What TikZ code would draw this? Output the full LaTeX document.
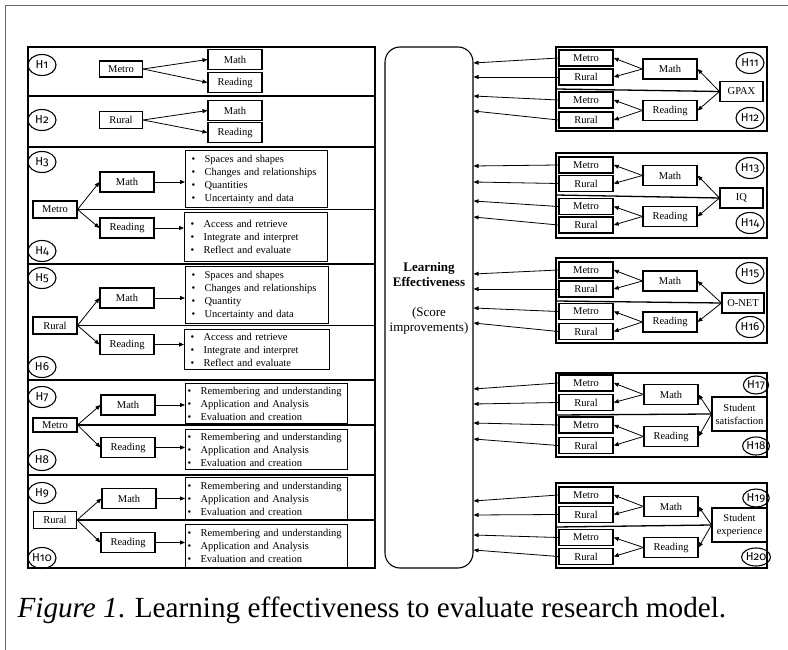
\documentclass[tikz,border=0pt]{standalone}
\usepackage{fontspec}
\setmainfont{Liberation Serif}
\newfontfamily\hfont[Numbers=OldStyle]{Fira Sans}
\usepackage{tikz}
\usetikzlibrary{positioning, arrows.meta, shapes.geometric, calc}

\newcommand{\bl}[1]{\makebox[13pt][l]{\textbullet}#1}

\begin{document}
\begin{tikzpicture}[x=1pt, y=-1pt, line width=1.1pt,
  box/.style = {draw, minimum width=54pt, minimum height=20pt, inner sep=0pt, font=\fontsize{10.5}{13}\selectfont},
  sbox/.style = {box, minimum width=43pt, minimum height=17pt},
  rbox/.style = {box, minimum height=16pt, line width=1.5pt},
  hyp/.style = {draw, ellipse, minimum width=28pt, minimum height=21pt, inner sep=0pt, font=\hfont\fontsize{11.5}{11.5}\selectfont},
  list/.style = {draw, anchor=north west, align=left, inner ysep=0pt, font=\fontsize{10.5}{13}\selectfont},
  arr/.style = {-{Triangle[length=5pt, width=4pt]}, line width=0.8pt},
  frame/.style = {draw, line width=1.3pt}]
\useasboundingbox (0,0) rectangle (788,650);
\draw[black!60, line width=1pt] (5,650) -- (5,6) -- (788,6);

% left panel
\coordinate (lr) at (375,47);
\draw[frame] (28,47) rectangle (375,568);
\draw[frame] (28,96) -- (375,96);
\draw[frame] (28,147) -- (375,147);
\draw[frame] (28,264) -- (375,264);
\draw[frame] (28,380) -- (375,380);
\draw[frame] (28,475) -- (375,475);

\node[hyp] (h1) at (42,65) {H1};
\node[sbox, minimum height=16pt] (me1) at (121,69) {Metro};
\node[box] (ma1) at (235,59.5) {Math};
\node[box] (re1) at (235,82.5) {Reading};

\node[hyp] (h2) at (42,120) {H2};
\node[sbox] (ru2) at (121,120) {Rural};
\node[box] (ma2) at (235,110.5) {Math};
\node[box] (re2) at (235,132.5) {Reading};

\node[hyp] (h3) at (42,162) {H3};
\node[hyp] (h4) at (42,251) {H4};
\node[sbox, minimum width=44pt] (me3) at (55,209.5) {Metro};
\node[box] (ma3) at (127,182) {Math};
\node[box] (re3) at (127,228) {Reading};
\node[list, inner xsep=6pt, text width=130pt, minimum height=57pt] (l3) at (185,150)
  {\bl{Spaces and shapes}\\\bl{Changes and relationships}\\\bl{Quantities}\\\bl{Uncertainty and data}};
\node[list, inner xsep=6pt, text width=131pt, minimum height=49pt] (l4) at (184,212)
  {\bl{Access and retrieve}\\\bl{Integrate and interpret}\\\bl{Reflect and evaluate}};

\node[hyp] (h5) at (42,278) {H5};
\node[hyp] (h6) at (42,367) {H6};
\node[sbox, minimum width=44pt] (ru5) at (55,325.5) {Rural};
\node[box] (ma5) at (127,298) {Math};
\node[box] (re5) at (127,344.5) {Reading};
\node[list, inner xsep=6pt, text width=131pt, minimum height=57pt] (l5) at (185,266)
  {\bl{Spaces and shapes}\\\bl{Changes and relationships}\\\bl{Quantity}\\\bl{Uncertainty and data}};
\node[list, inner xsep=6pt, text width=133pt, minimum height=40pt] (l6) at (184,329)
  {\bl{Access and retrieve}\\\bl{Integrate and interpret}\\\bl{Reflect and evaluate}};

\node[hyp] (h7) at (42,397) {H7};
\node[hyp] (h8) at (42,460) {H8};
\node[sbox, minimum width=44pt, minimum height=14pt] (me7) at (55,425) {Metro};
\node[box] (ma7) at (128,405) {Math};
\node[box] (re7) at (128,447.5) {Reading};
\node[list, inner xsep=2pt, text width=158pt, minimum height=40pt] (l7) at (185,383)
  {\bl{Remembering and understanding}\\\bl{Application and Analysis}\\\bl{Evaluation and creation}};
\node[list, inner xsep=2pt, text width=158pt, minimum height=40pt] (l8) at (185,429)
  {\bl{Remembering and understanding}\\\bl{Application and Analysis}\\\bl{Evaluation and creation}};

\node[hyp] (h9) at (42,493) {H9};
\node[hyp] (h10) at (42,558) {H10};
\node[sbox] (ru9) at (55,520) {Rural};
\node[box] (ma9) at (129,498.5) {Math};
\node[box] (re9) at (128,542.5) {Reading};
\node[list, inner xsep=2pt, text width=158pt, minimum height=42pt] (l9) at (185,477)
  {\bl{Remembering and understanding}\\\bl{Application and Analysis}\\\bl{Evaluation and creation}};
\node[list, inner xsep=2pt, text width=158pt, minimum height=43pt] (l10) at (185,524)
  {\bl{Remembering and understanding}\\\bl{Application and Analysis}\\\bl{Evaluation and creation}};

\draw[frame] (me3.east) -- (me3.east -| lr);
\draw[frame] (ru5.east) -- (ru5.east -| lr);
\draw[frame] (me7.east) -- (me7.east -| lr);
\draw[frame] (ru9.east) -- (ru9.east -| lr);

\draw[arr] (me1.east) -- (ma1.west);
\draw[arr] (me1.east) -- (re1.west);
\draw[arr] (ru2.east) -- (ma2.west);
\draw[arr] (ru2.east) -- (re2.west);
\draw[arr] (me3.east) -- (ma3.west);
\draw[arr] (me3.east) -- (re3.west);
\draw[arr] (ma3.east) -- (ma3 -| l3.west);
\draw[arr] (re3.east) -- (re3 -| l4.west);
\draw[arr] (ru5.east) -- (ma5.west);
\draw[arr] (ru5.east) -- (re5.west);
\draw[arr] (ma5.east) -- (ma5 -| l5.west);
\draw[arr] (re5.east) -- (re5 -| l6.west);
\draw[arr] (me7.east) -- (ma7.west);
\draw[arr] (me7.east) -- (re7.west);
\draw[arr] (ma7.east) -- (ma7 -| l7.west);
\draw[arr] (re7.east) -- (re7 -| l8.west);
\draw[arr] (ru9.east) -- (ma9.west);
\draw[arr] (ru9.east) -- (re9.west);
\draw[arr] (ma9.east) -- (ma9 -| l9.west);
\draw[arr] (re9.east) -- (re9 -| l10.west);

% centre
\node[draw, rounded corners=15pt, minimum width=88pt, minimum height=521pt] (le) at (429,307.5) {};
\node[align=center, font=\fontsize{13}{15}\selectfont] (lt) at (429,298)
  {\textbf{Learning}\\\textbf{Effectiveness}\\[15pt](Score\\improvements)};

% GPAX
\draw[frame] (556,47) rectangle (767,131);
\node[rbox] (mt11) at (586,58) {Metro};
\node[rbox] (rl11) at (586,77) {Rural};
\node[rbox] (mt12) at (586,100) {Metro};
\node[rbox] (rl12) at (586,120) {Rural};
\node[box] (ma11) at (670,69) {Math};
\node[box] (re12) at (670,110.5) {Reading};
\node[box, minimum width=43pt] (gpax) at (741.5,91.5) {GPAX};
\node[hyp] (h11) at (750,63) {H11};
\node[hyp] (h12) at (750,118) {H12};
\draw[frame] (556,89) -- (gpax.west);

% IQ
\draw[frame] (556,153) rectangle (767,238);
\node[rbox] (mt13) at (586,165) {Metro};
\node[rbox] (rl13) at (586,183.5) {Rural};
\node[rbox] (mt14) at (586,206.5) {Metro};
\node[rbox] (rl14) at (586,225) {Rural};
\node[box] (ma13) at (670,175.5) {Math};
\node[box] (re14) at (670,216.5) {Reading};
\node[box, minimum width=43pt] (iq) at (741.5,198) {IQ};
\node[hyp] (h13) at (750,168) {H13};
\node[hyp] (h14) at (750,223) {H14};
\draw[frame] (556,195) -- (iq.west);

% O-NET
\draw[frame] (556,258) rectangle (767,343);
\node[rbox] (mt15) at (586,270) {Metro};
\node[rbox] (rl15) at (586,289) {Rural};
\node[rbox] (mt16) at (586,311.5) {Metro};
\node[rbox] (rl16) at (586,331.5) {Rural};
\node[box] (ma15) at (670,281) {Math};
\node[box] (re16) at (670,322) {Reading};
\node[box, minimum width=42pt] (onet) at (743,303) {O-NET};
\node[hyp] (h15) at (750,273) {H15};
\node[hyp] (h16) at (750,327) {H16};
\draw[frame] (556,301) -- (onet.west);

% student satisfaction
\draw[frame] (556,373) rectangle (767,457);
\node[rbox] (mt17) at (586,383) {Metro};
\node[rbox] (rl17) at (586,402.5) {Rural};
\node[rbox] (mt18) at (586,425) {Metro};
\node[rbox] (rl18) at (586,445.5) {Rural};
\node[box] (ma17) at (671,394.5) {Math};
\node[box] (re18) at (671,436.5) {Reading};
\node[box, align=center, minimum width=55pt, minimum height=34pt] (sat) at (739.5,414) {Student\\satisfaction};
\node[hyp, minimum width=23pt, minimum height=18pt] (h17) at (756,385) {H17};
\node[hyp, minimum width=23pt, minimum height=18pt] (h18) at (756,446) {H18};
\draw[frame] (556,415) -- (sat.west);

% student experience
\draw[frame] (556,483) rectangle (767,568);
\node[rbox] (mt19) at (586,495) {Metro};
\node[rbox] (rl19) at (586,514.5) {Rural};
\node[rbox] (mt20) at (586,537.5) {Metro};
\node[rbox] (rl20) at (586,556.5) {Rural};
\node[box] (ma19) at (671,506.5) {Math};
\node[box] (re20) at (671,547.5) {Reading};
\node[box, align=center, minimum width=55pt, minimum height=34pt] (exp) at (739.5,525) {Student\\experience};
\node[hyp, minimum width=23pt, minimum height=18pt] (h19) at (756,498) {H19};
\node[hyp, minimum width=23pt, minimum height=18pt] (h20) at (756,557) {H20};
\draw[frame] (556,527) -- (exp.west);

\draw[arr] (ma11.west) -- (mt11.east);
\draw[arr] (ma11.west) -- (rl11.east);
\draw[arr] (re12.west) -- (mt12.east);
\draw[arr] (re12.west) -- (rl12.east);
\draw[arr] (gpax.west) -- (ma11.east);
\draw[arr] (gpax.west) -- (re12.east);
\draw[arr] (ma13.west) -- (mt13.east);
\draw[arr] (ma13.west) -- (rl13.east);
\draw[arr] (re14.west) -- (mt14.east);
\draw[arr] (re14.west) -- (rl14.east);
\draw[arr] (iq.west) -- (ma13.east);
\draw[arr] (iq.west) -- (re14.east);
\draw[arr] (ma15.west) -- (mt15.east);
\draw[arr] (ma15.west) -- (rl15.east);
\draw[arr] (re16.west) -- (mt16.east);
\draw[arr] (re16.west) -- (rl16.east);
\draw[arr] (onet.west) -- (ma15.east);
\draw[arr] (onet.west) -- (re16.east);
\draw[arr] (ma17.west) -- (mt17.east);
\draw[arr] (ma17.west) -- (rl17.east);
\draw[arr] (re18.west) -- (mt18.east);
\draw[arr] (re18.west) -- (rl18.east);
\draw[arr] (sat.west) -- (ma17.east);
\draw[arr] (sat.west) -- (re18.east);
\draw[arr] (ma19.west) -- (mt19.east);
\draw[arr] (ma19.west) -- (rl19.east);
\draw[arr] (re20.west) -- (mt20.east);
\draw[arr] (re20.west) -- (rl20.east);
\draw[arr] (exp.west) -- (ma19.east);
\draw[arr] (exp.west) -- (re20.east);

% into learning effectiveness
\draw[arr] (mt11.west) -- (le.east |- 0,63);
\draw[arr] (rl11.west) -- (le.east |- 0,77);
\draw[arr] (mt12.west) -- (le.east |- 0,96);
\draw[arr] (rl12.west) -- (le.east |- 0,111);
\draw[arr] (mt13.west) -- (le.east |- 0,166);
\draw[arr] (rl13.west) -- (le.east |- 0,182);
\draw[arr] (mt14.west) -- (le.east |- 0,201);
\draw[arr] (rl14.west) -- (le.east |- 0,217);
\draw[arr] (mt15.west) -- (le.east |- 0,274);
\draw[arr] (rl15.west) -- (le.east |- 0,289);
\draw[arr] (mt16.west) -- (le.east |- 0,308);
\draw[arr] (rl16.west) -- (le.east |- 0,323);
\draw[arr] (mt17.west) -- (le.east |- 0,389);
\draw[arr] (rl17.west) -- (le.east |- 0,404);
\draw[arr] (mt18.west) -- (le.east |- 0,423);
\draw[arr] (rl18.west) -- (le.east |- 0,439);
\draw[arr] (mt19.west) -- (le.east |- 0,501);
\draw[arr] (rl19.west) -- (le.east |- 0,515);
\draw[arr] (mt20.west) -- (le.east |- 0,535);
\draw[arr] (rl20.west) -- (le.east |- 0,550);

\node[anchor=base west, inner sep=0pt, font=\fontsize{29.2}{29.2}\selectfont] (cap) at (17,617)
  {\textit{Figure 1}. Learning effectiveness to evaluate research model.};
\end{tikzpicture}
\end{document}
